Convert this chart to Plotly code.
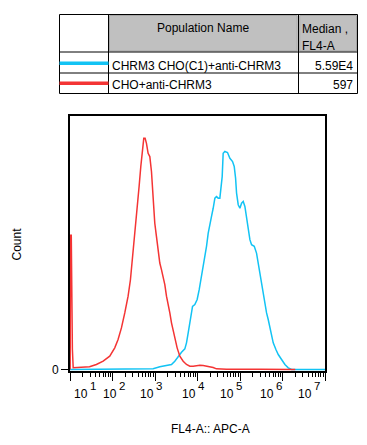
import numpy as np
import plotly.graph_objects as go

# ---------------- data ----------------
populations = ["CHRM3 CHO(C1)+anti-CHRM3", "CHO+anti-CHRM3"]
medians = ["5.59E4", "597"]
series_colors = ["#12c3f4", "#f43434"]

# FL4-A positions given as log10(FL4-A); counts as % of axis height
cyan_log10 = [1.00, 2.956, 3.113, 3.270, 3.388, 3.466, 3.545, 3.624, 3.702, 3.741,
              3.781, 3.820, 3.859, 3.883, 3.937, 3.992, 4.040, 4.094, 4.149, 4.212,
              4.252, 4.291, 4.330, 4.369, 4.409, 4.447, 4.487, 4.526, 4.550, 4.581,
              4.604, 4.644, 4.706, 4.762, 4.825, 4.864, 4.896, 4.919, 4.958, 4.998,
              5.037, 5.076, 5.115, 5.155, 5.194, 5.233, 5.272, 5.335, 5.389, 5.428,
              5.468, 5.507, 5.546, 5.586, 5.625, 5.664, 5.704, 5.743, 5.782, 5.845,
              5.900, 5.978, 6.057, 6.135, 6.213, 7.00]
cyan_count = [0.0, 0.26, 1.05, 1.57, 1.97, 3.28, 5.25, 6.82, 8.14, 10.5,
              14.4, 18.4, 22.3, 24.9, 25.6, 27.6, 31.5, 36.7, 42.0, 48.6,
              53.8, 57.7, 60.4, 63.6, 67.6, 68.2, 67.6, 67.6, 70.9, 76.1,
              85.3, 86.0, 85.6, 83.3, 82.0, 80.1, 75.5, 69.6, 65.0, 63.6,
              65.6, 66.3, 64.3, 59.1, 55.1, 51.2, 49.2, 48.6, 45.9, 42.0,
              38.1, 34.1, 28.9, 24.9, 22.3, 19.7, 16.4, 13.1, 10.5, 7.87,
              5.9, 3.94, 1.97, 0.66, 0.0, 0.0]

red_log10 = [1.004, 1.012, 1.030, 1.036, 1.050, 1.056, 1.075, 1.23, 1.46, 1.62,
             1.78, 1.935, 2.053, 2.131, 2.210, 2.289, 2.367, 2.422, 2.469, 2.524,
             2.579, 2.626, 2.666, 2.705, 2.736, 2.767, 2.799, 2.838, 2.878, 2.917,
             2.956, 2.995, 3.034, 3.074, 3.113, 3.152, 3.191, 3.231, 3.270, 3.309,
             3.349, 3.388, 3.427, 3.466, 3.521, 3.584, 3.663, 3.741, 3.820, 3.898,
             3.976, 4.055, 4.133, 4.212, 4.290, 4.369, 4.447, 4.683, 5.468, 6.175, 6.30]
red_count = [0.0, 53.0, 53.0, 27.0, 27.0, 8.0, 0.7, 0.8, 1.05, 1.97,
             3.28, 5.25, 8.53, 11.8, 16.4, 22.3, 28.9, 35.4, 43.3, 52.5,
             63.0, 72.2, 80.1, 87.9, 91.2, 91.2, 89.2, 85.3, 84.0, 78.1,
             68.2, 57.7, 52.5, 45.9, 42.0, 39.4, 36.7, 33.5, 28.9, 26.2,
             22.3, 18.4, 15.1, 11.8, 8.53, 5.25, 3.28, 1.97, 1.31, 1.31,
             1.57, 1.71, 1.57, 1.31, 1.31, 0.8, 0.26, 0.13, 0.1, 0.05, 0.0]

decade_exponents = ["1", "2", "3", "4", "5", "6", "7"]
# where the "10" of each decade label ends (log10 units, as FlowJo draws them)
label_log10 = [1.454, 2.136, 3.00, 3.981, 4.882, 5.824, 6.725]

# ---------------- layout helpers ----------------
OFF = 8                      # default page margin of the html body
W, H = 367 - OFF, 445 - OFF
SL, SR, ST, SB = 70, 325, 116, 371   # plot area, in window pixels
FONT = "Liberation Sans, Arial, sans-serif"


def px(x):
    return (x - SL) / (SR - SL)


def py(y):
    return (SB - y) / (SB - ST)


fig = go.Figure()
fig.add_trace(go.Scatter(x=10 ** np.array(cyan_log10), y=cyan_count, mode="lines",
                         line=dict(color=series_colors[0], width=1.5), showlegend=False,
                         name=populations[0]))
fig.add_trace(go.Scatter(x=10 ** np.array(red_log10), y=red_count, mode="lines",
                         line=dict(color=series_colors[1], width=1.5), showlegend=False,
                         name=populations[1]))

shapes = []
annotations = []


def rect(x0, y0, x1, y1, line_color="black", fill=None, lw=1):
    shapes.append(dict(type="rect", xref="paper", yref="paper",
                       x0=px(x0), x1=px(x1), y0=py(y1), y1=py(y0),
                       line=dict(color=line_color, width=lw),
                       fillcolor=fill if fill else "rgba(0,0,0,0)", layer="above"))


def hline(x0, x1, y, color="black", lw=1):
    shapes.append(dict(type="line", xref="paper", yref="paper",
                       x0=px(x0), x1=px(x1), y0=py(y), y1=py(y),
                       line=dict(color=color, width=lw), layer="above"))


def vline(x, y0, y1, color="black", lw=1):
    shapes.append(dict(type="line", xref="paper", yref="paper",
                       x0=px(x), x1=px(x), y0=py(y0), y1=py(y1),
                       line=dict(color=color, width=lw), layer="above"))


def text(s, x, y, xanchor="left", size=12, yanchor="middle", angle=0):
    annotations.append(dict(text=s, xref="paper", yref="paper", x=px(x), y=py(y),
                            xanchor=xanchor, yanchor=yanchor, showarrow=False,
                            textangle=angle, borderpad=0,
                            font=dict(family=FONT, size=size, color="black")))


# ---- table ----
tx0, tx1, ty0, ty1 = 59.5, 357.5, 14.5, 93.5
c1, c2 = 108.5, 298.5
r1, r2 = 52, 73
rect(109.5, 15.5, 297.2, 51, line_color="#a6a6a6", fill="#c0c0c0")
rect(299.7, 15.5, 356.5, 51, line_color="#a6a6a6", fill="#c0c0c0")
rect(tx0, ty0, tx1, ty1)
vline(c1, ty0, ty1)
vline(c2, ty0, ty1)
hline(tx0, tx1, r1)
hline(tx0, tx1, r2)
hline(tx0, c1, 63.3, color=series_colors[0], lw=3.5)
hline(tx0, c1, 83.3, color=series_colors[1], lw=3.5)

text("Population Name", 203, 28, xanchor="center")
text("Median ,", 300.5, 28.5)
text("FL4-A", 300.5, 45.5)
text(populations[0], 110.5, 65.5)
text(populations[1], 110.5, 85)
text(medians[0], 353.5, 65.5, xanchor="right")
text(medians[1], 353.5, 85, xanchor="right")

# ---- axis texts ----
text("Count", 16.5, 244, xanchor="center", angle=-90)
text("FL4-A:: APC-A", 210, 428.5, xanchor="center")

for e, pos in zip(decade_exponents, label_log10):
    annotations.append(dict(text="10", xref="x", yref="paper", x=pos, y=py(393.5),
                            xanchor="right", yanchor="middle", showarrow=False, borderpad=0,
                            font=dict(family=FONT, size=12, color="black")))
    annotations.append(dict(text=e, xref="x", yref="paper", x=pos, y=py(385.5),
                            xanchor="left", yanchor="middle", showarrow=False, borderpad=0,
                            font=dict(family=FONT, size=11.5, color="black")))

fig.update_layout(
    width=W, height=H,
    margin=dict(l=SL - OFF, r=W - (SR - OFF), t=ST - OFF, b=H - (SB - OFF), pad=0),
    paper_bgcolor="white", plot_bgcolor="white",
    font=dict(family=FONT, size=12, color="black"),
    shapes=shapes, annotations=annotations,
    xaxis=dict(type="log", range=[1, 7], tickmode="linear", tick0=0, dtick=1,
               showticklabels=False, ticks="outside", ticklen=8, tickwidth=1,
               tickcolor="black", showgrid=False, zeroline=False,
               showline=True, linecolor="black", linewidth=2, mirror=True,
               minor=dict(dtick="D1", ticks="outside", ticklen=4, tickwidth=1,
                          tickcolor="black", showgrid=False)),
    yaxis=dict(range=[-0.6, 100], tickmode="array", tickvals=[0], ticktext=["0"],
               ticks="outside", ticklen=7, tickwidth=1, tickcolor="black",
               showgrid=False, zeroline=False, showline=True, linecolor="black",
               linewidth=2, mirror=True,
               tickfont=dict(family=FONT, size=12, color="black")),
)

fig.write_html("out.html")
